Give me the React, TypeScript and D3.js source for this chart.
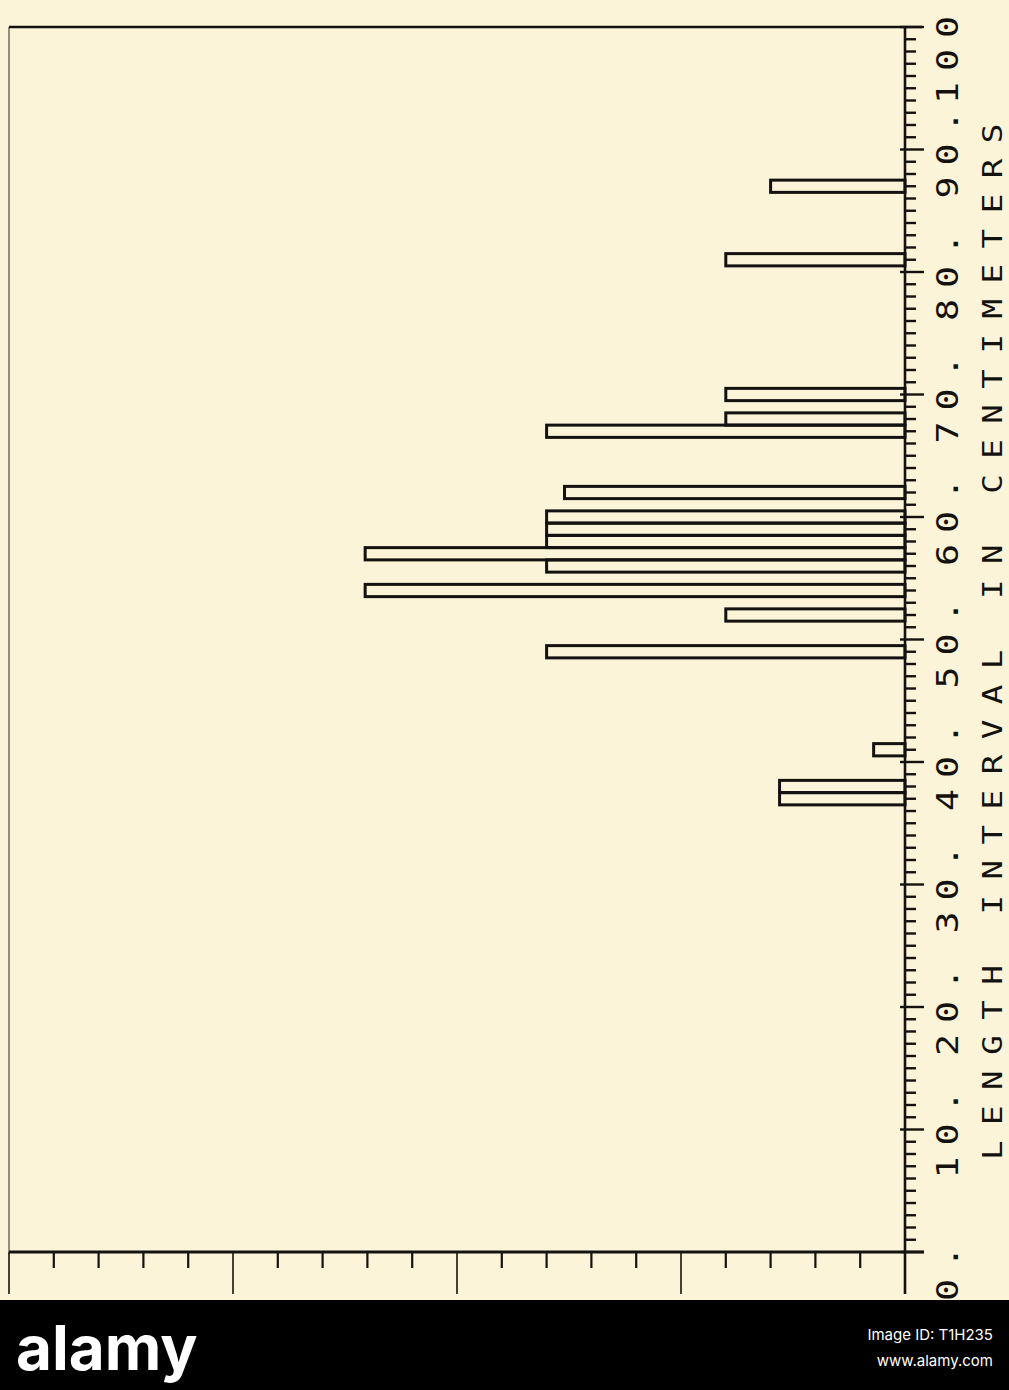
import React from 'react';
import * as d3 from 'd3';

// length interval (cm, bin centre) and relative frequency
const lengthBins = [87, 81, 70, 68, 67, 62, 60, 59, 58, 57, 56, 54, 52, 49, 41, 38, 37];
const frequency = [3.0, 4.0, 4.0, 4.0, 8.0, 7.6, 8.0, 8.0, 8.0, 12.05, 8.0, 12.05, 4.0, 8.0, 0.7, 2.8, 2.8];

const lengthTicks = d3.range(0, 101, 1);
const lengthLabels = ['0.', '10.', '20.', '30.', '40.', '50.', '60.', '70.', '80.', '90.', '100'];
const freqTicks = d3.range(0, 21, 1);
const axisTitle = 'LENGTH INTERVAL IN CENTIMETERS';

const W = 1009;
const H = 1390;
const INK = '#141210';
const PAPER = '#FBF4D8';
const MONO = '"DejaVu Sans Mono", "Liberation Mono", monospace';

export default function App() {
  // plot is turned on its side: length runs up the right edge, frequency grows to the left
  const y = d3.scaleLinear().domain([0, 100]).range([1252, 27]);
  const x = d3.scaleLinear().domain([0, 20]).range([905, 9]);
  const x0 = x(0);
  const y0 = y(0);

  return (
    <div style={{ position: 'absolute', left: 0, top: 0 }}>
      <svg width={W} height={H} style={{ display: 'block' }}>
        <rect x={0} y={0} width={W} height={H} fill={PAPER} />

        {/* frame: top and left */}
        <line x1={x(20)} x2={x0 + 17} y1={y(100)} y2={y(100)} stroke={INK} strokeWidth={2.6} />
        <line x1={x(20)} x2={x(20)} y1={y(100)} y2={y0} stroke={INK} strokeWidth={1.2} opacity={0.75} />

        {/* bars */}
        {lengthBins.map((L, i) => {
          const top = y(L + 0.5);
          const bot = y(L - 0.5);
          const left = x(frequency[i]);
          return (
            <rect
              key={L}
              x={left}
              y={top}
              width={x0 - left}
              height={bot - top}
              fill="none"
              stroke={INK}
              strokeWidth={3}
            />
          );
        })}

        {/* length axis (right) */}
        <line x1={x0} x2={x0} y1={y(100)} y2={y0 + 42} stroke={INK} strokeWidth={2.6} />
        {lengthTicks.map(t => {
          const major = t % 10 === 0;
          return (
            <line
              key={'lt' + t}
              x1={major ? x0 - 5 : x0}
              x2={major ? x0 + 19 : x0 + 11}
              y1={y(t)}
              y2={y(t)}
              stroke={INK}
              strokeWidth={2.4}
            />
          );
        })}
        {lengthLabels.map((lab, i) => (
          <text
            key={'ll' + i}
            transform={`translate(958,${Math.max(y(i * 10) + 49, 104)}) rotate(-90) scale(1.22,1)`}
            fontFamily={MONO}
            fontSize={30}
            letterSpacing={9}
            fill={INK}
          >
            {lab}
          </text>
        ))}
        <text
          transform={`translate(1002,1160) rotate(-90) scale(1.25,1)`}
          fontFamily={MONO}
          fontSize={26}
          letterSpacing={12.4}
          fill={INK}
        >
          {axisTitle}
        </text>

        {/* frequency axis (bottom) */}
        <line x1={x(20)} x2={x0 + 19} y1={y0} y2={y0} stroke={INK} strokeWidth={2.8} />
        {freqTicks.map(t => {
          const major = t % 5 === 0;
          return (
            <line
              key={'ft' + t}
              x1={x(t)}
              x2={x(t)}
              y1={y0}
              y2={major ? y0 + 42 : y0 + 16}
              stroke={INK}
              strokeWidth={major ? 1.6 : 2.2}
            />
          );
        })}

        {/* stock-photo footer band */}
        <rect x={0} y={1300} width={W} height={H - 1300} fill="#000" />
        <text x={16} y={1370} fontFamily="Inter, 'Open Sans', sans-serif" fontWeight={700} fontSize={62} fill="#fff">
          alamy
        </text>
        <text x={993} y={1340} textAnchor="end" fontFamily="Inter, 'Open Sans', sans-serif" fontSize={15} fill="#fff">
          Image ID: T1H235
        </text>
        <text x={993} y={1366} textAnchor="end" fontFamily="Inter, 'Open Sans', sans-serif" fontSize={15} fill="#fff">
          www.alamy.com
        </text>
      </svg>
    </div>
  );
}
